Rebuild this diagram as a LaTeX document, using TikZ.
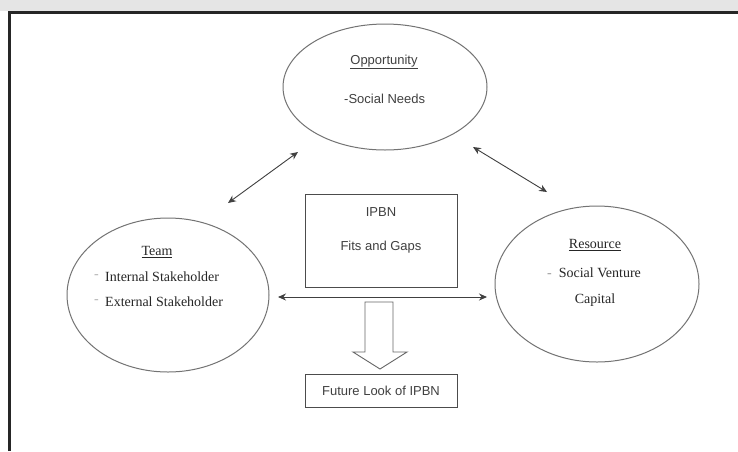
\documentclass[tikz,border=0pt]{standalone}
\usepackage{fontspec}
\setmainfont{Liberation Serif}
\newfontfamily\arialfont{Liberation Sans}
\usetikzlibrary{shapes.geometric, arrows.meta, positioning, calc}

\begin{document}
\begin{tikzpicture}[x=1pt,y=-1pt]
		% Define styles for circles, boxes, texts and arrows
		\tikzstyle{circ} = [ellipse, draw=black!55, line width=1pt, inner sep=0pt]
		\tikzstyle{box} = [rectangle, draw=black!70, line width=0.9pt, inner sep=0pt]
		\tikzstyle{sanstxt} = [font=\arialfont\fontsize{13}{15}\selectfont, text=black!75, inner sep=0pt]
		\tikzstyle{seriftxt} = [font=\fontsize{14}{16}\selectfont, text=black!85, inner sep=0pt]
		\tikzstyle{arrow} = [line width=0.9pt, draw=black!75, {Stealth[length=8pt,width=7pt]}-{Stealth[length=8pt,width=7pt]}]
		
		% Page and frame
		\useasboundingbox (0,0) rectangle (738,451);
		\fill[white] (0,0) rectangle (738,451);
		\fill[black!10] (0,0) rectangle (738,11);
		\draw[line width=3pt, black!85] (9,451) -- (9,12) -- (738,12);
		
		% Draw the three circles
		\node[circ, minimum width=204pt, minimum height=126pt] (opp) at (385,87) {};
		\node[circ, minimum width=202pt, minimum height=154pt] (team) at (168,295) {};
		\node[circ, minimum width=204pt, minimum height=156pt] (res) at (597,284) {};
		
		% Annotate the circles
		\node[sanstxt] (opptitle) at (384,62) {\underline{Opportunity}};
		\node[sanstxt, anchor=west] (oppneed) at (344,99) {-Social Needs};
		\node[seriftxt] (teamtitle) at (157,252) {\underline{Team}};
		\node[seriftxt, anchor=west] (teamint) at (105,277) {Internal Stakeholder};
		\node[seriftxt, anchor=west] (teamext) at (105,302) {External Stakeholder};
		\node[seriftxt, text=black!30, anchor=east] (dotint) at (99,277) {-};
		\node[seriftxt, text=black!30, anchor=east] (dotext) at (99,302) {-};
		\node[seriftxt] (restitle) at (595,245) {\underline{Resource}};
		\node[seriftxt] (resvent) at (594,273) {{\color{black!40}-}\ \ Social Venture};
		\node[seriftxt] (rescap) at (595,300) {Capital};
		
		% Draw the middle boxes
		\node[box, minimum width=152pt, minimum height=93pt] (ipbn) at (381,240.5) {};
		\node[sanstxt] (ipbnname) at (381,212) {IPBN};
		\node[sanstxt] (ipbnfits) at (381,247) {Fits and Gaps};
		\node[box, minimum width=152pt, minimum height=33pt, sanstxt] (future) at (381,390.5) {Future Look of IPBN};
		
		% Draw the arrows between the circles
		\coordinate (tl) at (228,203);
		\coordinate (ol) at (298,152);
		\coordinate (or) at (473,147);
		\coordinate (rl) at (547,192);
		\coordinate (hl) at (278,297);
		\coordinate (hr) at (487,297);
		\draw [arrow] (tl) -- (ol);
		\draw [arrow] (or) -- (rl);
		\draw [arrow] (hl) -- (hr);
		
		% Draw the hollow arrow down to the future look
		\draw[line width=0.9pt, draw=black!60] (365,302) -- (393,302) -- (393,352) -- (407,352) -- (380,369) -- (353,352) -- (365,352) -- cycle;
	
	\end{tikzpicture}
\end{document}
